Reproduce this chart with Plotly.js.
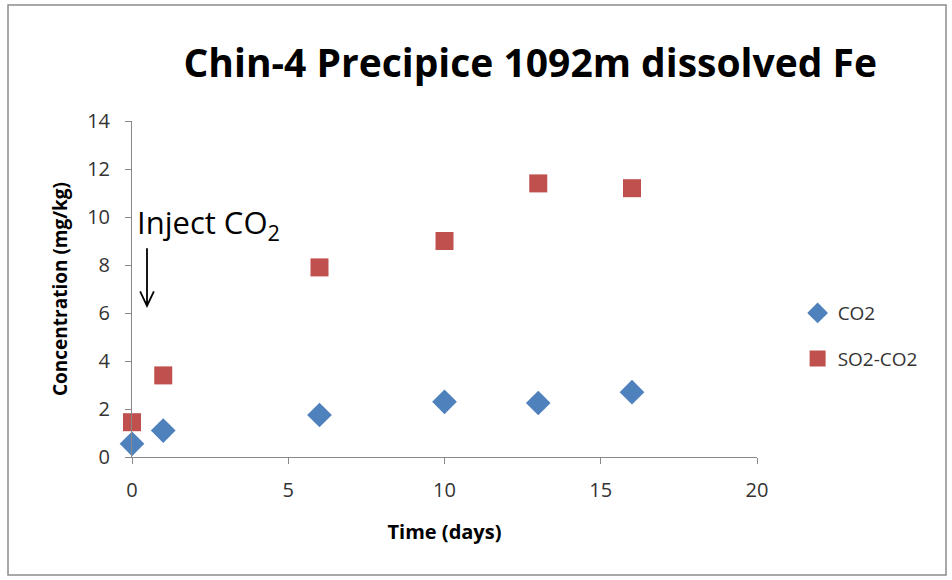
<!DOCTYPE html>
<html>
<head>
<meta charset="utf-8">
<script src="https://cdn.plot.ly/plotly-3.0.1.min.js"></script>
<style>
  html, body { margin: 0; padding: 0; background: #fff; }
  #chart { width: 952px; height: 580px; }
</style>
</head>
<body>
<div id="chart"></div>
<script>
// Dissolved Fe over time for the two injection experiments
const daysCO2 = [0, 1, 6, 10, 13, 16];
const feCO2 = [0.55, 1.1, 1.75, 2.3, 2.25, 2.7];

const daysSO2 = [0, 1, 6, 10, 13, 16];
const feSO2 = [1.45, 3.4, 7.9, 9.0, 11.4, 11.2];

const xTicks = [0, 5, 10, 15, 20];
const yTicks = [0, 2, 4, 6, 8, 10, 12, 14];

const fontFam = 'Open Sans, Noto Sans, sans-serif';

const traces = [
  {
    x: daysCO2, y: feCO2, name: 'CO2', type: 'scatter', mode: 'markers',
    legendgroup: 'co2', cliponaxis: false,
    marker: { symbol: 'diamond', size: 19, color: '#4F81BD' }
  },
  {
    x: daysSO2, y: feSO2, name: 'SO2-CO2', type: 'scatter', mode: 'markers',
    legendgroup: 'so2', cliponaxis: false,
    marker: { symbol: 'square', size: 18, color: '#C0504D' }
  }
];

// "Inject CO2" arrow: shaft plus open V head, in data units
const arrowX = 0.48, arrowTop = 8.7, arrowTip = 6.3;
const arrowPath =
  `M ${arrowX},${arrowTop} L ${arrowX},${arrowTip} ` +
  `M ${arrowX - 0.22},${arrowTip + 0.6} L ${arrowX},${arrowTip} L ${arrowX + 0.22},${arrowTip + 0.6}`;

const layout = {
  width: 952, height: 580,
  margin: { l: 132, r: 195, t: 121, b: 123 },
  paper_bgcolor: '#fff', plot_bgcolor: '#fff',
  showlegend: true,
  title: {
    text: '<b>Chin-4 Precipice 1092m dissolved Fe</b>',
    font: { family: fontFam, size: 39, color: '#000' },
    x: 0.557, xanchor: 'center', y: 0.89, yanchor: 'middle'
  },
  xaxis: {
    range: [0, 20], tickvals: xTicks, ticktext: xTicks.map(String),
    showgrid: false, zeroline: false, showline: true, linecolor: '#888', linewidth: 1,
    ticks: 'outside', ticklen: 6, tickcolor: '#888', ticklabelstandoff: 9,
    tickfont: { family: fontFam, size: 20, color: '#333' },
    title: { text: '<b>Time (days)</b>', font: { family: fontFam, size: 20, color: '#000' }, standoff: 22 }
  },
  yaxis: {
    range: [0, 14], tickvals: yTicks, ticktext: yTicks.map(String),
    showgrid: false, zeroline: false, showline: true, linecolor: '#888', linewidth: 1,
    ticks: 'outside', ticklen: 6, tickcolor: '#888', ticklabelstandoff: 11,
    tickfont: { family: fontFam, size: 20, color: '#333' },
    title: { text: '<b>Concentration (mg/kg)</b>', font: { family: fontFam, size: 19, color: '#000' }, standoff: 14 }
  },
  legend: {
    x: 1.065, xanchor: 'left', y: 0.36, yanchor: 'middle',
    font: { family: fontFam, size: 19, color: '#333' },
    tracegroupgap: 18, bgcolor: 'rgba(0,0,0,0)'
  },
  annotations: [
    {
      xref: 'x', yref: 'y', x: 0.1, y: 9.7, xanchor: 'left', yanchor: 'middle',
      text: 'Inject CO<sub>2</sub>', showarrow: false,
      font: { family: fontFam, size: 31, color: '#000' }
    }
  ],
  shapes: [
    {
      type: 'path', xref: 'x', yref: 'y', path: arrowPath,
      line: { color: '#000', width: 1.8 }
    },
    {
      type: 'rect', xref: 'paper', yref: 'paper',
      x0: -0.1984, x1: 1.3024, y0: -0.351, y1: 1.345,
      line: { color: '#8c8c8c', width: 1.5 }, fillcolor: 'rgba(0,0,0,0)', layer: 'below'
    }
  ]
};

Plotly.newPlot('chart', traces, layout, { displayModeBar: false, staticPlot: true });
</script>
</body>
</html>
